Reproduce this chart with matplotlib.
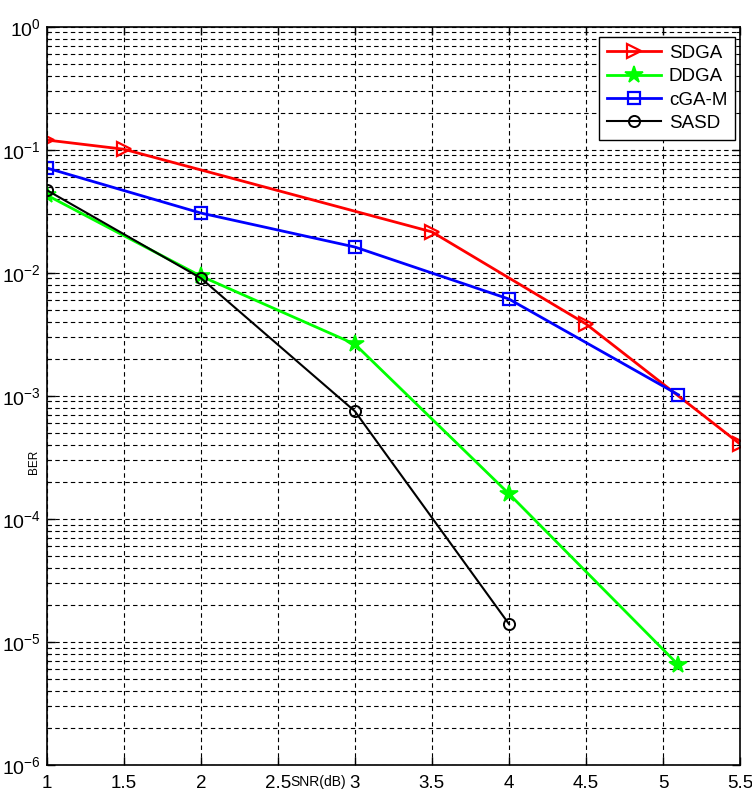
import numpy as np
import matplotlib.pyplot as plt
from matplotlib.ticker import LogLocator, FixedLocator, NullFormatter

plt.rcParams['font.family'] = ['Liberation Sans', 'DejaVu Sans']
plt.rcParams['mathtext.default'] = 'regular'

# data
sdga_x = [1, 1.5, 3.5, 4.5, 5.5]
sdga_y = [0.12, 0.101, 0.0215, 0.00384, 4.06e-4]
ddga_x = [1, 2, 3, 4, 5.1]
ddga_y = [0.0428, 0.0094, 0.00263, 1.6e-4, 6.5e-6]
cgam_x = [1, 2, 3, 4, 5.1]
cgam_y = [0.0711, 0.0306, 0.0162, 0.00612, 1.02e-3]
sasd_x = [1, 2, 3, 4]
sasd_y = [0.047, 0.00906, 7.5e-4, 1.4e-5]

x_ticks = [1, 1.5, 2, 2.5, 3, 3.5, 4, 4.5, 5, 5.5]
x_labels = ['1', '1.5', '2', '2.5', '3', '3.5', '4', '4.5', '5', '5.5']
y_ticks = [1e-6, 1e-5, 1e-4, 1e-3, 1e-2, 1e-1, 1e0]
y_labels = ['$10^{-6}$', '$10^{-5}$', '$10^{-4}$', '$10^{-3}$', '$10^{-2}$', '$10^{-1}$', '$10^{0}$']

fig = plt.figure(figsize=(7.52, 7.92), dpi=100)
ax = fig.add_axes([0.0621, 0.0341, 0.922, 0.9322])

ax.semilogy(sdga_x, sdga_y, color='red', lw=2, marker='>', ms=10, mfc='none', mew=1.6, label='SDGA')
ax.semilogy(ddga_x, ddga_y, color='#00ff00', lw=2, marker='*', ms=13, mew=1.2, label='DDGA')
ax.semilogy(cgam_x, cgam_y, color='blue', lw=2, marker='s', ms=9, mfc='none', mew=1.6, label='cGA-M')
ax.semilogy(sasd_x, sasd_y, color='black', lw=1.5, marker='o', ms=8, mfc='none', mew=1.4, label='SASD')

ax.set_xlim(1, 5.5)
ax.set_ylim(1e-6, 1)
ax.set_xticks(x_ticks)
ax.set_xticklabels(x_labels)
ax.yaxis.set_major_locator(FixedLocator(y_ticks))
ax.set_yticklabels(y_labels)
ax.yaxis.set_minor_locator(LogLocator(base=10, subs=np.arange(2, 10), numticks=20))
ax.yaxis.set_minor_formatter(NullFormatter())

ax.tick_params(which='both', direction='in', top=True, right=True)
ax.tick_params(axis='x', pad=7, labelsize=13.5)
ax.tick_params(axis='y', pad=4, labelsize=14)
ax.tick_params(which='major', length=6, width=1)
ax.tick_params(which='minor', length=3, width=0.8)
ax.grid(which='both', color='black', linestyle=(0, (4, 3)), linewidth=0.8)
for s in ax.spines.values():
    s.set_linewidth(1.2)

ax.set_xlabel('SNR(dB)', fontsize=10)
ax.xaxis.set_label_coords(0.392, -0.013)
ax.xaxis.label.set_va('top')
ax.set_ylabel('BER', fontsize=8.5)
ax.yaxis.set_label_coords(-0.01, 0.41)

leg = ax.legend(loc='upper right', bbox_to_anchor=(0.993, 0.986), borderaxespad=0,
                fontsize=13.5, fancybox=False, framealpha=1, edgecolor='black',
                handlelength=2.9, handletextpad=0.4, labelspacing=0.33,
                borderpad=0.42)
leg.get_frame().set_linewidth(1)

fig.savefig('out.png', dpi=100)
